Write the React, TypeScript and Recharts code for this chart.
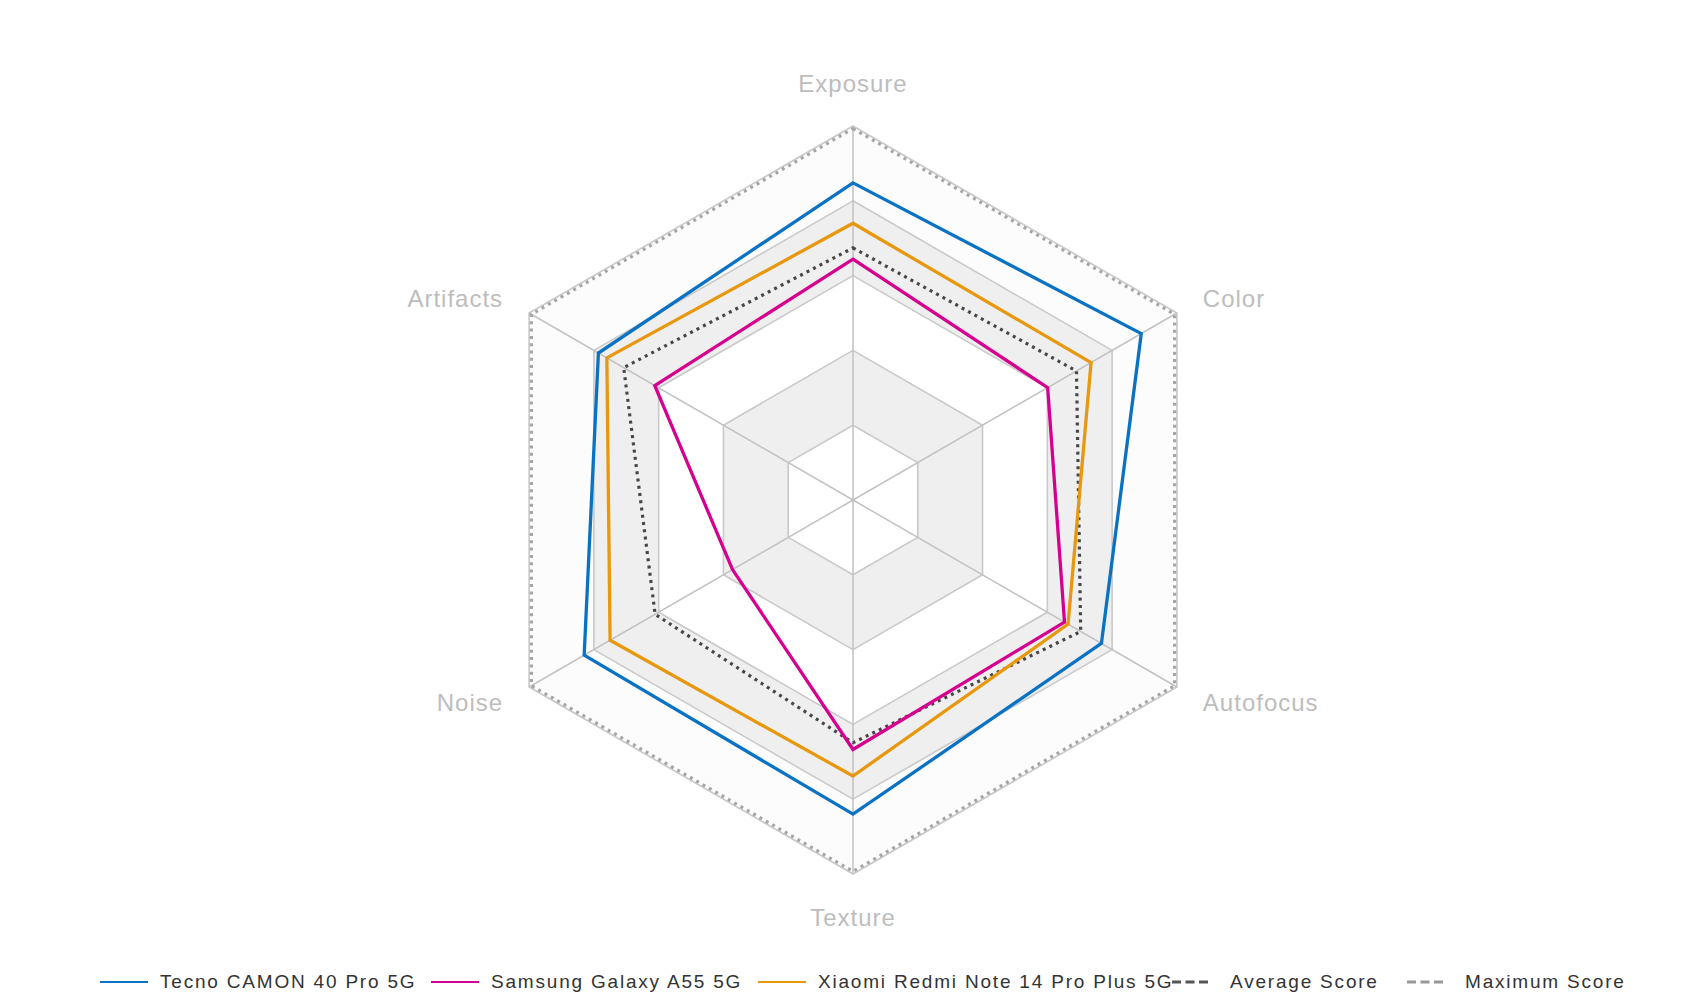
import React from 'react';
import { RadarChart, Radar, PolarAngleAxis, PolarRadiusAxis } from 'recharts';

const categories = ['Exposure', 'Color', 'Autofocus', 'Texture', 'Noise', 'Artifacts'];

const tecno = [84.8, 89.0, 76.7, 84.0, 83.0, 78.6];
const samsung = [64.4, 60.1, 65.3, 66.7, 37.2, 61.2];
const xiaomi = [74.0, 73.5, 66.4, 73.8, 75.0, 76.0];
const average = [67.4, 69.0, 70.3, 64.9, 61.1, 70.8];
const maximum = [99.3, 99.3, 99.3, 99.3, 99.3, 99.3];

// background rings, outermost first
const bandLevels = [100, 80, 60, 40, 20];
const bandFills = ['#fcfcfc', '#efefef', '#ffffff', '#efefef', '#ffffff'];

const series = [
  { key: 'tecno', name: 'Tecno CAMON 40 Pro 5G', color: '#0a72c3', values: tecno },
  { key: 'samsung', name: 'Samsung Galaxy A55 5G', color: '#d6008f', values: samsung },
  { key: 'xiaomi', name: 'Xiaomi Redmi Note 14 Pro Plus 5G', color: '#e8980e', values: xiaomi },
];

const data = categories.map((name, i) => {
  const row: Record<string, string | number> = {
    name,
    tecno: tecno[i],
    samsung: samsung[i],
    xiaomi: xiaomi[i],
    average: average[i],
    maximum: maximum[i],
  };
  bandLevels.forEach((lv) => {
    row[`band${lv}`] = lv;
  });
  return row;
});

const CX = 845;
const CY = 492;
const FONT = '"Liberation Sans", Arial, Helvetica, sans-serif';

const AxisTick = (props: any) => {
  const { x, y, payload, textAnchor } = props;
  let dy = 0;
  if (textAnchor === 'middle') dy = y < CY ? -13 : 13;
  return (
    <text
      x={x}
      y={y + dy}
      textAnchor={textAnchor}
      dominantBaseline="central"
      fill="#bdbdbd"
      fontSize={24}
      letterSpacing={1}
      fontFamily={FONT}
    >
      {payload.value}
    </text>
  );
};

// spokes from the centre to the outer ring, drawn on top of the bands
const Spokes = (props: any) => {
  const pts = props.points || [];
  return (
    <g>
      {pts.map((p: any, i: number) => (
        <line
          key={i}
          x1={p.cx ?? CX}
          y1={p.cy ?? CY}
          x2={p.x}
          y2={p.y}
          stroke="#c2c2c2"
          strokeWidth={1.5}
        />
      ))}
    </g>
  );
};

const legendItems = [
  { name: 'Tecno CAMON 40 Pro 5G', color: '#0a72c3', dash: false, width: 331 },
  { name: 'Samsung Galaxy A55 5G', color: '#d6008f', dash: false, width: 327 },
  { name: 'Xiaomi Redmi Note 14 Pro Plus 5G', color: '#e8980e', dash: false, width: 412 },
  { name: 'Average Score', color: '#555555', dash: true, width: 235 },
  { name: 'Maximum Score', color: '#999999', dash: true, width: 260 },
];

const ChartLegend = () => (
  <div
    style={{
      display: 'flex',
      paddingLeft: 92,
      height: 28,
      lineHeight: '28px',
      fontFamily: FONT,
      fontSize: 19,
      letterSpacing: 1.8,
      color: '#333',
      whiteSpace: 'nowrap',
    }}
  >
    {legendItems.map((it) => (
      <div key={it.name} style={{ width: it.width, flex: 'none', display: 'flex', alignItems: 'center' }}>
        <svg width={48} height={10} style={{ flex: 'none' }}>
          <line
            x1={it.dash ? 2 : 0}
            y1={5}
            x2={it.dash ? 42 : 48}
            y2={5}
            stroke={it.color}
            strokeWidth={it.dash ? 3 : 2}
            strokeDasharray={it.dash ? '9 4.5' : undefined}
          />
        </svg>
        <span style={{ marginLeft: 12 }}>{it.name}</span>
      </div>
    ))}
  </div>
);

export default function App() {
  return (
    <div style={{ width: 1690 }}>
      <RadarChart width={1690} height={960} data={data} cx={CX} cy={CY} outerRadius={374}>
        <PolarRadiusAxis domain={[0, 100]} tickCount={6} tick={false} axisLine={false} />
        {bandLevels.map((lv, i) => (
          <Radar
            key={lv}
            dataKey={`band${lv}`}
            stroke="#c9c9c9"
            strokeWidth={1.6}
            fill={bandFills[i]}
            fillOpacity={1}
            isAnimationActive={false}
            legendType="none"
          />
        ))}
        <Radar dataKey="band100" shape={<Spokes />} isAnimationActive={false} legendType="none" />
        <PolarAngleAxis dataKey="name" tick={<AxisTick />} tickLine={false} axisLine={false} tickSize={30} />
        <Radar
          dataKey="maximum"
          stroke="#a6a6a6"
          strokeWidth={3.2}
          strokeDasharray="3 4.3"
          fill="none"
          isAnimationActive={false}
        />
        <Radar
          dataKey="average"
          stroke="#474747"
          strokeWidth={3.2}
          strokeDasharray="3 4.3"
          fill="none"
          isAnimationActive={false}
        />
        {series.map((s) => (
          <Radar
            key={s.key}
            dataKey={s.key}
            name={s.name}
            stroke={s.color}
            strokeWidth={3.3}
            fill="none"
            isAnimationActive={false}
          />
        ))}
      </RadarChart>
      <ChartLegend />
    </div>
  );
}
